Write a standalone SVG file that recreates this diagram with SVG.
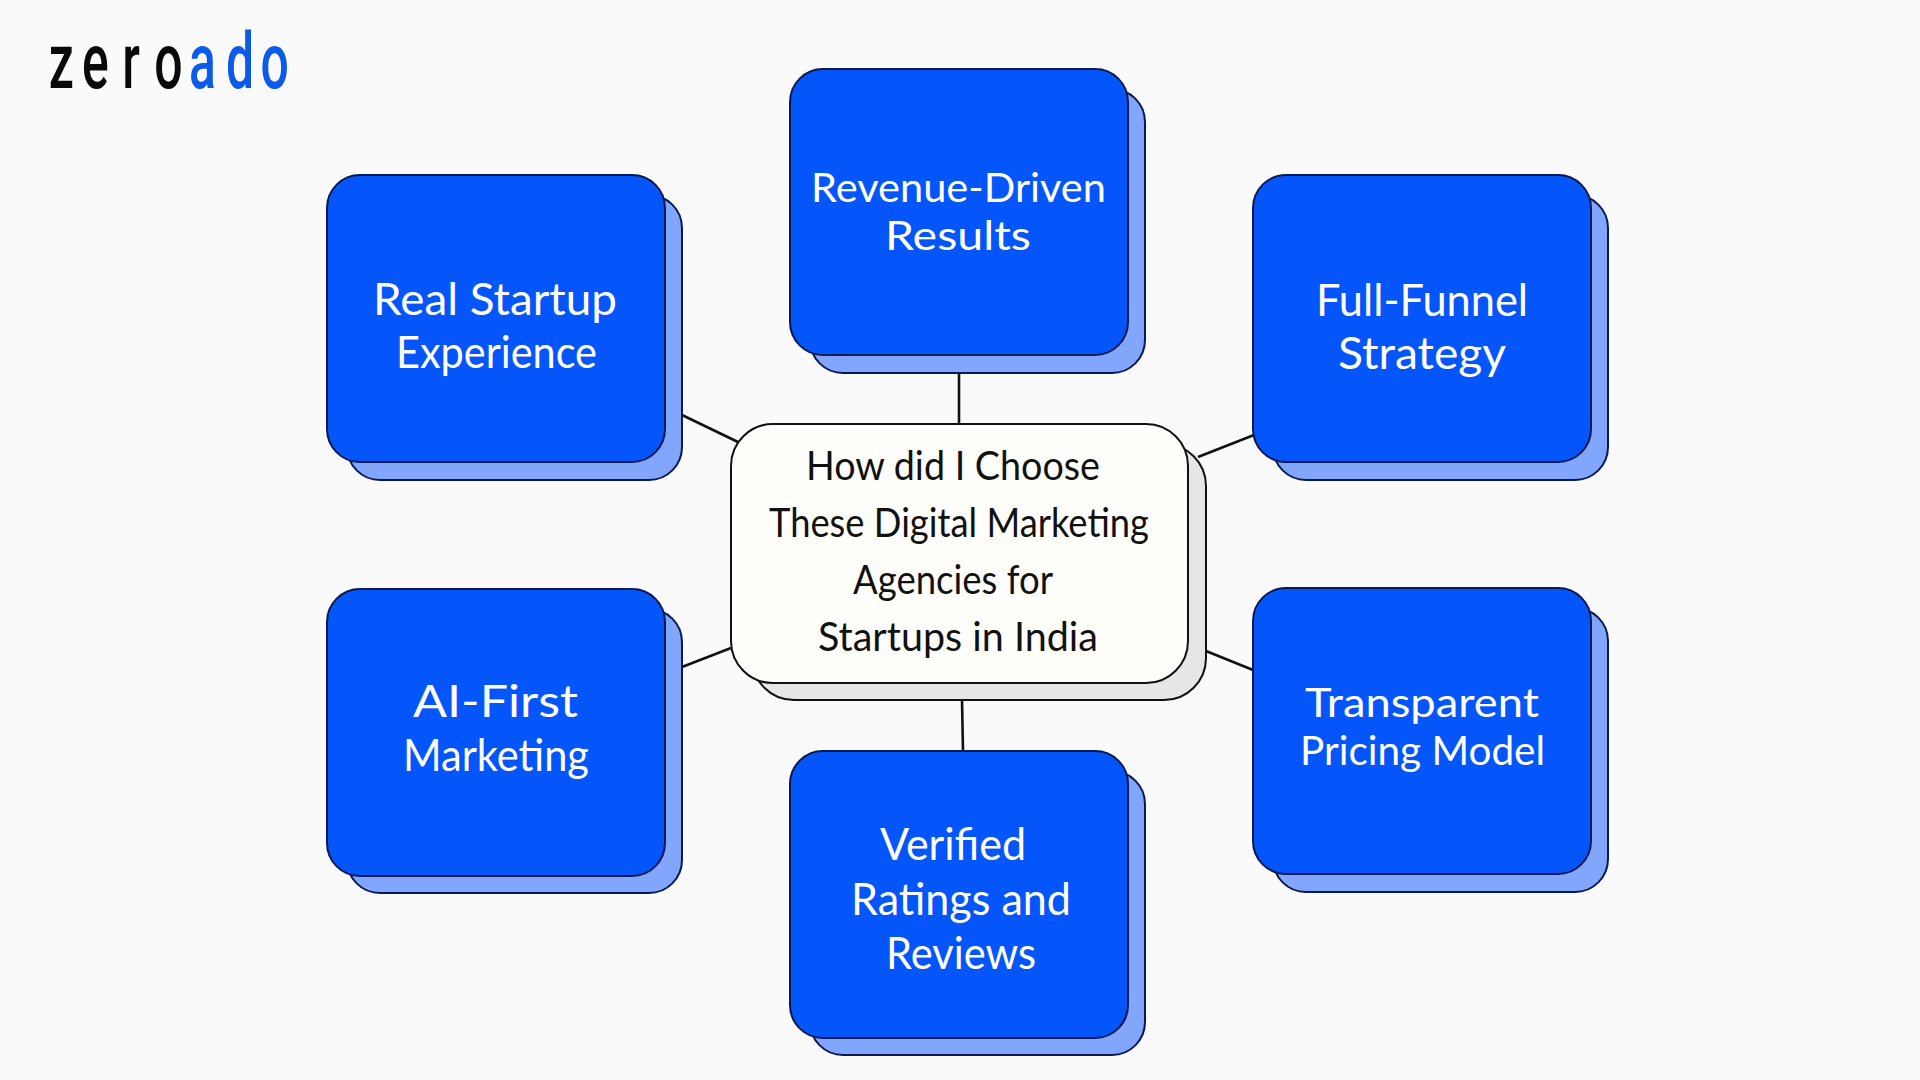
<svg xmlns="http://www.w3.org/2000/svg" width="1920" height="1080" viewBox="0 0 1920 1080">
<style>
.bg{fill:#fafafb}
.sh{fill:#82a6fc;stroke:#0a1a50;stroke-width:2}
.box{fill:#0455fa;stroke:#0a1a50;stroke-width:2}
.csh{fill:#e6e6e6;stroke:#111;stroke-width:2}
.cbox{fill:#fffefa;stroke:#111;stroke-width:2}
.lbl{font-family:"Lato","Noto Sans",sans-serif;font-size:45px;fill:#fff}
.tight{font-size:40px}
.clbl{font-family:"Lato","Noto Sans",sans-serif;font-size:40px;fill:#111}
.logo{font-family:"Roboto","Liberation Sans",sans-serif;font-size:78px;font-weight:500}
#connectors line{stroke:#111;stroke-width:2.6}
</style>
<rect class="bg" width="1920" height="1080"/>
<g id="logo"><text class="logo" transform="translate(50,88) scale(0.64,1)"><tspan x="-2 50 113 163" fill="#0a0a0a">zero</tspan><tspan x="217 275 329" fill="#0b5be8">ado</tspan></text></g>
<g id="connectors">
<line x1="959" y1="373" x2="959" y2="424"/>
<line x1="962" y1="700" x2="963" y2="751"/>
<line x1="682" y1="415" x2="738" y2="442"/>
<line x1="1198" y1="457" x2="1254" y2="435"/>
<line x1="682" y1="667" x2="731" y2="648"/>
<line x1="1206" y1="651" x2="1253" y2="670"/>
</g>
<g id="node-revenue"><rect class="sh" x="810" y="89" width="335" height="284" rx="33"/><rect class="box" x="790" y="69" width="338" height="286" rx="33"/>
<text class="lbl tight" x="811" y="202" textLength="295" lengthAdjust="spacingAndGlyphs">Revenue-Driven</text>
<text class="lbl tight" x="885" y="250" textLength="146" lengthAdjust="spacingAndGlyphs">Results</text></g>
<g id="node-startup"><rect class="sh" x="347" y="195" width="335" height="285" rx="33"/><rect class="box" x="327" y="175" width="338" height="287" rx="33"/>
<text class="lbl" x="373" y="315" textLength="244" lengthAdjust="spacingAndGlyphs">Real Startup</text>
<text class="lbl" x="396" y="368" textLength="201" lengthAdjust="spacingAndGlyphs">Experience</text></g>
<g id="node-funnel"><rect class="sh" x="1273" y="195" width="335" height="285" rx="33"/><rect class="box" x="1253" y="175" width="338" height="287" rx="33"/>
<text class="lbl" x="1316" y="316" textLength="212" lengthAdjust="spacingAndGlyphs">Full-Funnel</text>
<text class="lbl" x="1338" y="369" textLength="168" lengthAdjust="spacingAndGlyphs">Strategy</text></g>
<g id="node-ai"><rect class="sh" x="347" y="609" width="335" height="284" rx="33"/><rect class="box" x="327" y="589" width="338" height="287" rx="33"/>
<text class="lbl" x="413" y="717" textLength="165" lengthAdjust="spacingAndGlyphs">AI-First</text>
<text class="lbl" x="403" y="771" textLength="186" lengthAdjust="spacingAndGlyphs">Marketing</text></g>
<g id="node-pricing"><rect class="sh" x="1273" y="608" width="335" height="284" rx="33"/><rect class="box" x="1253" y="588" width="338" height="286" rx="33"/>
<text class="lbl tight" x="1305" y="717" textLength="234" lengthAdjust="spacingAndGlyphs">Transparent</text>
<text class="lbl tight" x="1300" y="765" textLength="245" lengthAdjust="spacingAndGlyphs">Pricing Model</text></g>
<g id="node-ratings"><rect class="sh" x="810" y="771" width="335" height="284" rx="33"/><rect class="box" x="790" y="751" width="338" height="287" rx="33"/>
<text class="lbl" x="880" y="860" textLength="146" lengthAdjust="spacingAndGlyphs">Verified</text>
<text class="lbl" x="851" y="915" textLength="220" lengthAdjust="spacingAndGlyphs">Ratings and</text>
<text class="lbl" x="886" y="969" textLength="150" lengthAdjust="spacingAndGlyphs">Reviews</text></g>
<g id="node-center"><rect class="csh" x="752" y="444" width="454" height="256" rx="42"/><rect class="cbox" x="731" y="424" width="457" height="259" rx="42"/>
<text class="clbl" x="806" y="480" textLength="294" lengthAdjust="spacingAndGlyphs">How did I Choose</text>
<text class="clbl" x="769" y="537" textLength="380" lengthAdjust="spacingAndGlyphs">These Digital Marketing</text>
<text class="clbl" x="853" y="594" textLength="200" lengthAdjust="spacingAndGlyphs">Agencies for</text>
<text class="clbl" x="818" y="651" textLength="280" lengthAdjust="spacingAndGlyphs">Startups in India</text></g>
</svg>
